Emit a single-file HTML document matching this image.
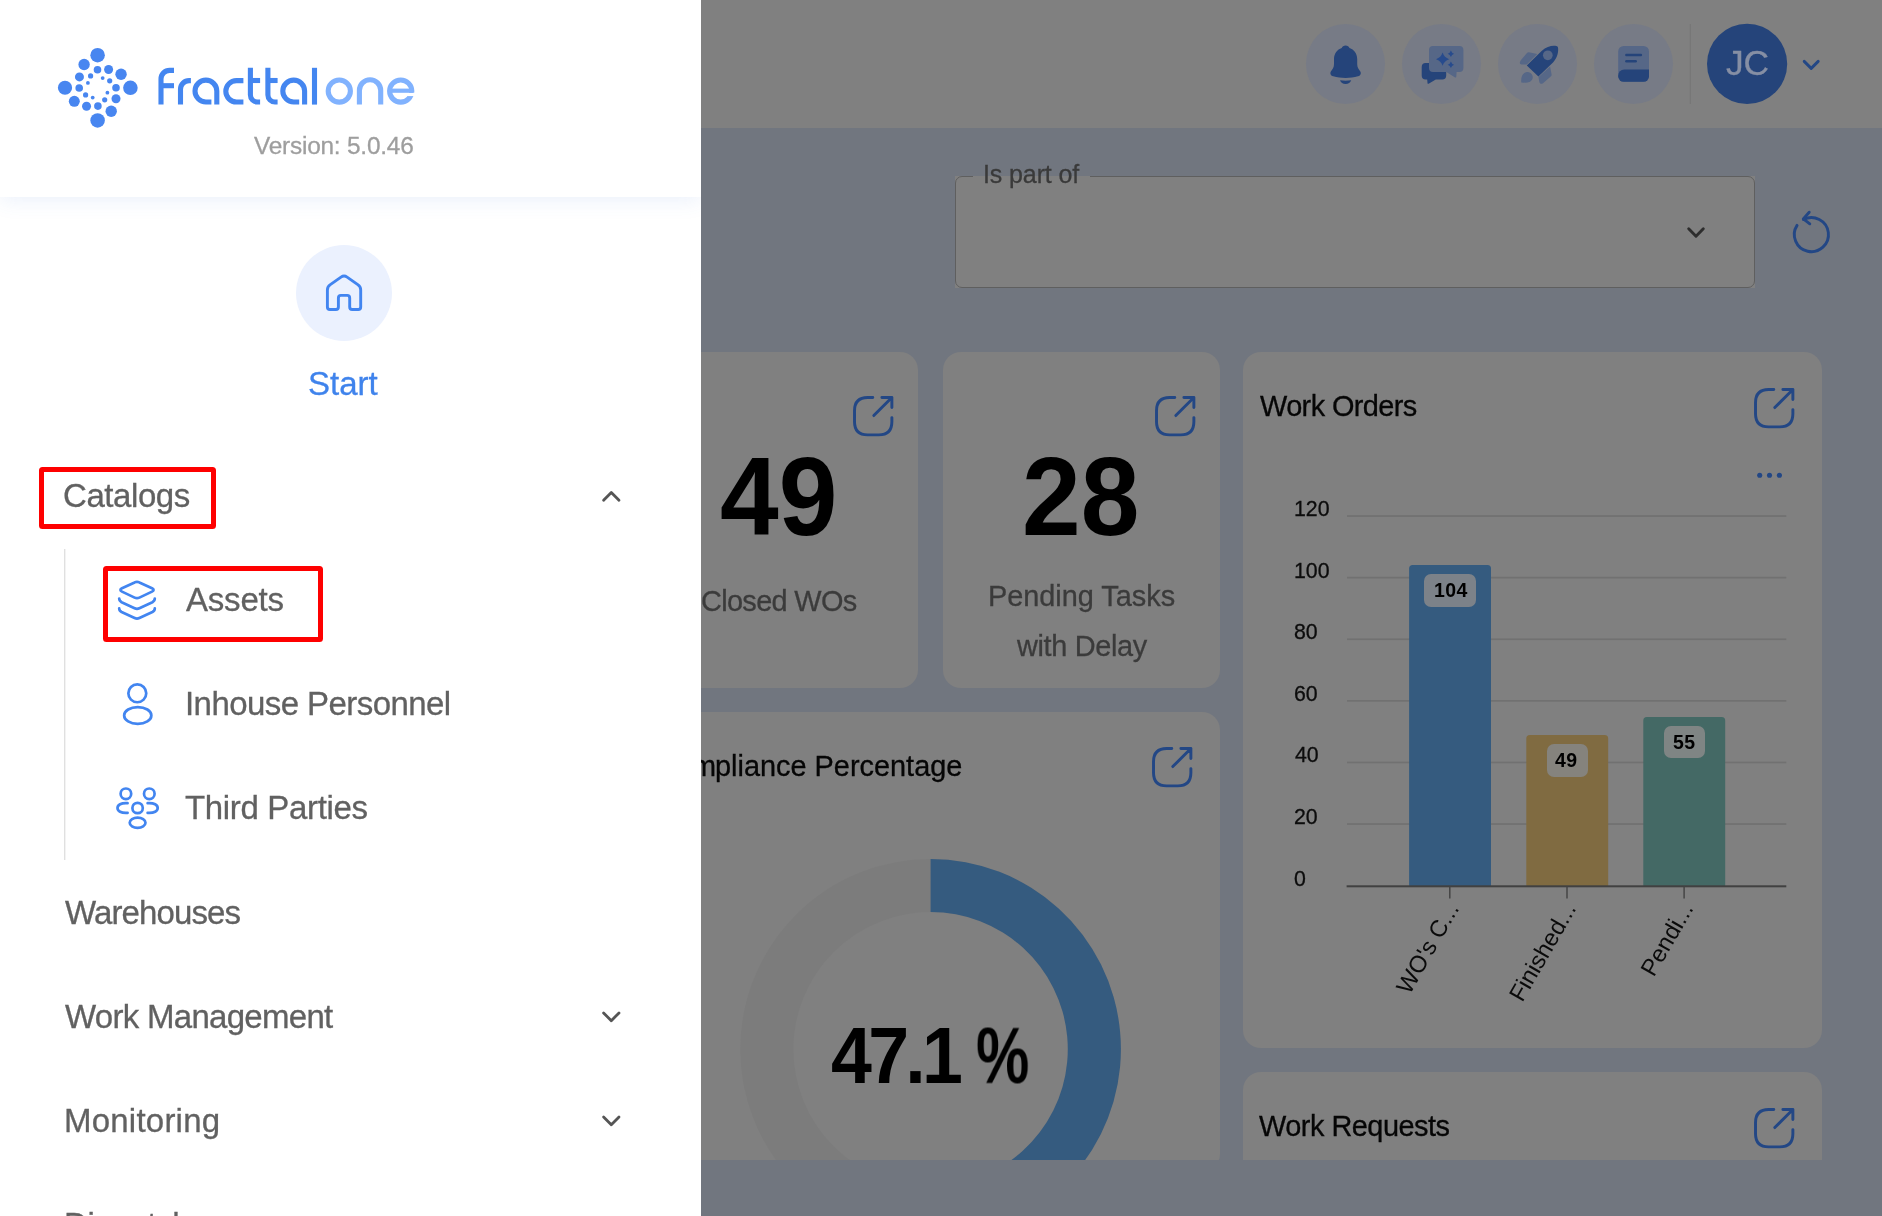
<!DOCTYPE html>
<html lang="en">
<head>
<meta charset="utf-8">
<title>Fracttal One</title>
<style>
*{box-sizing:border-box;margin:0;padding:0}
html,body{width:1882px;height:1216px;overflow:hidden;background:#71767f;font-family:"Liberation Sans",sans-serif}
.t{position:absolute;white-space:nowrap;line-height:1;will-change:transform}
#main{position:absolute;left:0;top:0;width:1882px;height:1216px;background:#71767f;overflow:hidden}
#topbar{position:absolute;left:0;top:0;width:1882px;height:127.5px;background:#808080}
.card{position:absolute;background:#808080;border-radius:18px}
.ic{position:absolute;width:79.6px;height:79.6px;border-radius:50%;background:#777b86;top:24px}
#side{position:absolute;left:0;top:0;width:701px;height:1216px;background:#fff;overflow:hidden}
#shead{position:absolute;left:0;top:0;width:701px;height:197px;background:#fff;box-shadow:0 3px 20px rgba(70,120,220,.115)}
.redbox{position:absolute;border:5px solid #fe0000;border-radius:3.5px}
svg{position:absolute;overflow:visible}
.pill{position:absolute;background:#969ca4;border-radius:7px}
</style>
</head>
<body>
<div id="main">
  <div id="topbar"></div>
  <div class="ic" style="left:1305.8px"></div>
  <div class="ic" style="left:1401.8px"></div>
  <div class="ic" style="left:1497.8px"></div>
  <div class="ic" style="left:1593.8px"></div>
  <svg style="left:0;top:0" width="1882" height="128" viewBox="0 0 1882 128">
    <g fill="#25447a">
      <path d="M1345.6,45.5 C1347.5,45.5 1349,46.5 1349.5,48 C1354,49.5 1357.2,53.5 1357.2,59 V64 C1357.2,67.5 1358.5,69 1360,71 C1361.5,73 1361,75.5 1358,76.3 C1354,77.5 1350,78 1345.6,78 C1341.2,78 1337.2,77.5 1333.2,76.3 C1330.2,75.5 1329.7,73 1331.2,71 C1332.7,69 1334,67.5 1334,64 V59 C1334,53.5 1337.2,49.5 1341.7,48 C1342.2,46.5 1343.7,45.5 1345.6,45.5 Z"/>
      <path d="M1340,80.2 C1343.5,80.8 1347.7,80.8 1351.2,80.2 C1350.5,82.5 1348.3,84 1345.6,84 C1342.9,84 1340.7,82.5 1340,80.2 Z"/>
    </g>
    <!-- chat -->
    <path fill="#25447a" d="M1425.7,62.9 H1442.2 A4,4 0 0 1 1446.2,66.9 V75.6 A4,4 0 0 1 1442.2,79.6 H1435.8 L1428.6,83.7 Q1427.6,84.2 1427.5,83 L1427.2,79.6 H1425.7 A4,4 0 0 1 1421.7,75.6 V66.9 A4,4 0 0 1 1425.7,62.9 Z"/>
    <path fill="#566787" d="M1433,46 H1459.4 A4,4 0 0 1 1463.4,50 V68 A4,4 0 0 1 1459.4,72 H1456.6 L1456.3,76.8 Q1456.2,78 1455.1,77.4 L1446.4,72 H1433 A4,4 0 0 1 1429,68 V50 A4,4 0 0 1 1433,46 Z"/>
    <g fill="#274b8d">
      <path d="M1442.6,52.6 Q1444.18,57.62 1449.1999999999998,59.2 Q1444.18,60.78 1442.6,65.8 Q1441.02,60.78 1436.0,59.2 Q1441.02,57.62 1442.6,52.6 Z"/>
      <path d="M1450.9,50.599999999999994 Q1451.67,53.03 1454.1000000000001,53.8 Q1451.67,54.57 1450.9,57.0 Q1450.13,54.57 1447.7,53.8 Q1450.13,53.03 1450.9,50.599999999999994 Z"/>
      <path d="M1450.9,61.5 Q1451.67,63.93 1454.1000000000001,64.7 Q1451.67,65.47 1450.9,67.9 Q1450.13,65.47 1447.7,64.7 Q1450.13,63.93 1450.9,61.5 Z"/>
    </g>
    <!-- rocket -->
    <g fill="#566787">
      <path d="M1528.8,52.2 L1537.2,53.9 L1526.8,64.6 H1521.6 Q1519.2,64.4 1520,62 Q1520.3,60.6 1521.4,59.5 L1527.2,52.8 Q1527.9,52 1528.8,52.2 Z"/>
      <path d="M1550.1,66.6 L1551.6,74.6 Q1551.8,75.6 1551,76.3 L1543,83.2 Q1541.2,84.6 1539.8,83 Q1539.3,82.2 1539.2,81.4 L1538.5,77 Z"/>
      <path d="M1521.3,82.6 Q1520.6,75.6 1524.4,73 C1527.4,71 1531.6,72.6 1532.6,76 C1533.4,79.4 1530.8,82.2 1527.4,82.4 Q1524.4,82.8 1521.3,82.6 Z"/>
    </g>
    <path fill="#25447a" d="M1526.8,65.4 L1541.6,51 C1546.8,46.2 1552.4,45.2 1556.4,46 Q1557.8,46.2 1558,47.6 C1558.6,51.6 1557.8,57.4 1553,62.4 L1538.4,76.6 Z"/>
    <circle cx="1547.8" cy="55.3" r="4.85" fill="#566787"/>
    <!-- book -->
    <path fill="#566787" d="M1623.7,45.95 H1643.5 A5.5,5.5 0 0 1 1649,51.45 V76.3 A5.5,5.5 0 0 1 1643.5,81.8 H1623.7 A5.5,5.5 0 0 1 1618.2,76.3 V51.45 A5.5,5.5 0 0 1 1623.7,45.95 Z"/>
    <path fill="#25447a" d="M1649,69.5 V76.3 A5.5,5.5 0 0 1 1643.5,81.8 H1623.7 A5.5,5.5 0 0 1 1618.2,76.3 V75.5 A6,6 0 0 1 1624.2,69.5 Z"/>
    <g stroke="#25447a" stroke-width="2.5" stroke-linecap="round"><path d="M1626.4,55.05 H1640.9"/><path d="M1626.4,61.35 H1635.7"/></g>
    <!-- divider, avatar -->
    <rect x="1689.7" y="24" width="1.3" height="80" fill="#777777"/>
    <circle cx="1747.1" cy="63.9" r="40.1" fill="#25447a"/>
    <path d="M1804.2,61.4 L1811.2,68.4 L1818.2,61.4" fill="none" stroke="#234785" stroke-width="2.9" stroke-linecap="round" stroke-linejoin="round"/>
  </svg>
  <div class="t" id="jc" style="left:1726.30px;top:45.50px;font-size:35.4px;color:#868fa4;font-weight:400;letter-spacing:-0.200px;-webkit-text-stroke:0.3px #868fa4">JC</div>
  <div style="position:absolute;left:955px;top:176px;width:800px;height:111.5px;background:#808080"></div>
  <div style="position:absolute;left:955.4px;top:176px;width:799.2px;height:111.5px;border:1.5px solid #5f5f5f;border-radius:7px"></div>
  <div style="position:absolute;left:972.7px;top:176px;width:117.2px;height:2px;background:#808080"></div>
  <div class="t" id="ispart" style="left:982.90px;top:162.01px;font-size:25px;color:#3a3a3a;font-weight:400;letter-spacing:-0.111px;-webkit-text-stroke:0.3px #3a3a3a">Is part of</div>
  <svg style="left:0;top:0" width="1882" height="300" viewBox="0 0 1882 300">
    <path d="M1688.7,228.8 L1696,236.2 L1703.3,228.8" fill="none" stroke="#2d2d2d" stroke-width="2.9" stroke-linecap="round" stroke-linejoin="round"/>
    <g fill="none" stroke="#234785" stroke-width="2.9" stroke-linecap="round" stroke-linejoin="round">
      <path d="M1803.5,219.5 A17.05,17.05 0 1 1 1797.05,225.4"/>
      <path d="M1809.2,212.2 L1803.3,218.9 L1809.8,223.8"/>
    </g>
  </svg>
  <div class="card" style="left:641px;top:352px;width:277px;height:335.5px"></div>
  <div class="card" style="left:943.3px;top:352px;width:276.6px;height:335.5px"></div>
  <div class="card" style="left:500px;top:712px;width:720.2px;height:460px"></div>
  <div class="card" style="left:1243px;top:352px;width:579px;height:695.6px"></div>
  <div class="card" style="left:1243px;top:1072px;width:579px;height:120px"></div>
  <svg style="left:853px;top:396.2px" width="40.4" height="40.4" viewBox="0 0 40 40"><path d="M19.6,1.5 H14.5 C6,1.5 1.5,6 1.5,14.5 V25.5 C1.5,34 6,38.5 14.5,38.5 H25.5 C34,38.5 38.5,34 38.5,25.5 V21.4 M20.6,19.4 L38.5,1.5 M28.6,1.5 H38.5 V11.4" fill="none" stroke="#234785" stroke-width="2.9" stroke-linecap="round" stroke-linejoin="round"/></svg>
  <svg style="left:1155px;top:396.2px" width="40.4" height="40.4" viewBox="0 0 40 40"><path d="M19.6,1.5 H14.5 C6,1.5 1.5,6 1.5,14.5 V25.5 C1.5,34 6,38.5 14.5,38.5 H25.5 C34,38.5 38.5,34 38.5,25.5 V21.4 M20.6,19.4 L38.5,1.5 M28.6,1.5 H38.5 V11.4" fill="none" stroke="#234785" stroke-width="2.9" stroke-linecap="round" stroke-linejoin="round"/></svg>
  <svg style="left:1152px;top:747.4px" width="40.4" height="40.4" viewBox="0 0 40 40"><path d="M19.6,1.5 H14.5 C6,1.5 1.5,6 1.5,14.5 V25.5 C1.5,34 6,38.5 14.5,38.5 H25.5 C34,38.5 38.5,34 38.5,25.5 V21.4 M20.6,19.4 L38.5,1.5 M28.6,1.5 H38.5 V11.4" fill="none" stroke="#234785" stroke-width="2.9" stroke-linecap="round" stroke-linejoin="round"/></svg>
  <svg style="left:1754.2px;top:387.6px" width="40.4" height="40.4" viewBox="0 0 40 40"><path d="M19.6,1.5 H14.5 C6,1.5 1.5,6 1.5,14.5 V25.5 C1.5,34 6,38.5 14.5,38.5 H25.5 C34,38.5 38.5,34 38.5,25.5 V21.4 M20.6,19.4 L38.5,1.5 M28.6,1.5 H38.5 V11.4" fill="none" stroke="#234785" stroke-width="2.9" stroke-linecap="round" stroke-linejoin="round"/></svg>
  <svg style="left:1754.2px;top:1107.6px" width="40.4" height="40.4" viewBox="0 0 40 40"><path d="M19.6,1.5 H14.5 C6,1.5 1.5,6 1.5,14.5 V25.5 C1.5,34 6,38.5 14.5,38.5 H25.5 C34,38.5 38.5,34 38.5,25.5 V21.4 M20.6,19.4 L38.5,1.5 M28.6,1.5 H38.5 V11.4" fill="none" stroke="#234785" stroke-width="2.9" stroke-linecap="round" stroke-linejoin="round"/></svg>
  <div class="t" id="n49" style="left:719.50px;top:445.71px;font-size:105.5px;color:#000;font-weight:700;letter-spacing:-0.000px;transform:scale(1.0000,1.058);transform-origin:0 89.31px">49</div>
  <div class="t" id="n28" style="left:1022.30px;top:445.71px;font-size:105.5px;color:#000;font-weight:700;letter-spacing:0.000px;transform:scale(1.0000,1.058);transform-origin:0 89.31px">28</div>
  <div class="t" id="closed" style="left:700.60px;top:586.70px;font-size:28.9px;color:#3b3b3b;font-weight:400;letter-spacing:-0.667px;-webkit-text-stroke:0.3px #3b3b3b">Closed WOs</div>
  <div class="t" id="pend1" style="left:987.80px;top:582.41px;font-size:28.9px;color:#3b3b3b;font-weight:400;letter-spacing:-0.025px;-webkit-text-stroke:0.3px #3b3b3b">Pending Tasks</div>
  <div class="t" id="pend2" style="left:1016.50px;top:631.81px;font-size:28.9px;color:#3b3b3b;font-weight:400;letter-spacing:-0.333px;-webkit-text-stroke:0.3px #3b3b3b">with Delay</div>
  <div class="t" id="comp" style="left:715.20px;top:752.41px;font-size:28.9px;color:#060606;font-weight:400;letter-spacing:-0.000px;-webkit-text-stroke:0.3px #060606">pliance Percentage</div>
  <div class="t" id="comp0" style="left:654.60px;top:752.41px;font-size:28.9px;color:#060606;font-weight:400;letter-spacing:-0.000px;-webkit-text-stroke:0.3px #060606">Com</div>
  <div class="t" id="wo" style="left:1259.80px;top:392.20px;font-size:28.9px;color:#060606;font-weight:400;letter-spacing:-0.600px;-webkit-text-stroke:0.3px #060606">Work Orders</div>
  <div class="t" id="wr" style="left:1259.40px;top:1112.00px;font-size:28.9px;color:#060606;font-weight:400;letter-spacing:-0.500px;-webkit-text-stroke:0.3px #060606">Work Requests</div>
  <svg style="left:0;top:0" width="1882" height="1216" viewBox="0 0 1882 1216">
    <circle cx="930.6" cy="1049.2" r="163.75" fill="none" stroke="#7c7c7c" stroke-width="53.10000000000002"/>
    <path d="M930.60,858.90 A190.3,190.3 0 0 1 965.08,1236.35 L955.46,1184.13 A137.2,137.2 0 0 0 930.60,912.00 Z" fill="#355b7f"/>
  </svg>
  <div class="t" id="pct" style="left:831.40px;top:1021.13px;font-size:73.5px;color:#000;font-weight:700;letter-spacing:-3.733px;transform:scale(1.0000,1.082);transform-origin:0 62.22px">47.1</div>
  <div class="t" id="pct2" style="left:975.50px;top:1021.13px;font-size:73.5px;color:#000;font-weight:700;letter-spacing:0.000px;transform:scale(0.8161,1.082);transform-origin:0 62.22px">%</div>
  <svg style="left:0;top:0" width="1882" height="1216" viewBox="0 0 1882 1216">
    <rect x="1347" y="515.2" width="439.3" height="1.7" fill="#717171"/>
    <rect x="1347" y="576.8" width="439.3" height="1.7" fill="#717171"/>
    <rect x="1347" y="638.4" width="439.3" height="1.7" fill="#717171"/>
    <rect x="1347" y="700.0" width="439.3" height="1.7" fill="#717171"/>
    <rect x="1347" y="761.6" width="439.3" height="1.7" fill="#717171"/>
    <rect x="1347" y="823.2" width="439.3" height="1.7" fill="#717171"/>
    <path d="M1409.1,886.5 V568.5 Q1409.1,565.0 1412.6,565.0 H1487.5 Q1491.0,565.0 1491.0,568.5 V886.5 Z" fill="#355b7f"/>
    <path d="M1526.3,886.5 V738.5 Q1526.3,735.0 1529.8,735.0 H1604.7 Q1608.2,735.0 1608.2,738.5 V886.5 Z" fill="#806b41"/>
    <path d="M1643.3,886.5 V720.4 Q1643.3,716.9 1646.8,716.9 H1721.7 Q1725.2,716.9 1725.2,720.4 V886.5 Z" fill="#446965"/>
    <rect x="1346.6" y="885.3" width="439.7" height="2" fill="#414141"/>
    <rect x="1449.05" y="886.5" width="1.5" height="12" fill="#454545"/>
    <rect x="1566.25" y="886.5" width="1.5" height="12" fill="#454545"/>
    <rect x="1683.35" y="886.5" width="1.5" height="12" fill="#454545"/>
    <text x="1459.7" y="908.3" text-anchor="end" transform="rotate(-60 1459.7 908.3)" font-family="Liberation Sans, sans-serif" font-size="23.7" fill="#0a0a0a">WO's C...</text>
    <text x="1576.9" y="908.3" text-anchor="end" transform="rotate(-60 1576.9 908.3)" font-family="Liberation Sans, sans-serif" font-size="23.7" fill="#0a0a0a">Finished...</text>
    <text x="1694.0" y="908.3" text-anchor="end" transform="rotate(-60 1694.0 908.3)" font-family="Liberation Sans, sans-serif" font-size="23.7" fill="#0a0a0a">Pendi...</text>
    <circle cx="1759.7" cy="475.2" r="2.55" fill="#234785"/>
    <circle cx="1769.5" cy="475.2" r="2.55" fill="#234785"/>
    <circle cx="1779.4" cy="475.2" r="2.55" fill="#234785"/>
  </svg>
  <div class="pill" style="left:1424.3px;top:574px;width:51.6px;height:32.6px;background:#7c8289"></div>
  <div class="pill" style="left:1546.8px;top:744.2px;width:41.3px;height:32.4px;background:#85837d"></div>
  <div class="pill" style="left:1663.5px;top:725.6px;width:41.3px;height:32.4px;background:#7f8584"></div>
  <div class="t" id="d104" style="left:1433.50px;top:581.04px;font-size:19.5px;color:#000;font-weight:700;letter-spacing:0.400px;transform:scale(1.0000,1.046);transform-origin:0 16.51px">104</div>
  <div class="t" id="d49" style="left:1555.20px;top:751.23px;font-size:19.5px;color:#000;font-weight:700;letter-spacing:0.400px;transform:scale(1.0000,1.046);transform-origin:0 16.51px">49</div>
  <div class="t" id="d55" style="left:1672.80px;top:732.82px;font-size:19.5px;color:#000;font-weight:700;letter-spacing:0.400px;transform:scale(1.0000,1.046);transform-origin:0 16.51px">55</div>
  <div class="t" id="ax0" style="left:1293.80px;top:498.90px;font-size:21.3px;color:#0c0c0c;font-weight:400;letter-spacing:0.000px;-webkit-text-stroke:0.3px #0c0c0c">120</div>
  <div class="t" id="ax1" style="left:1293.80px;top:560.50px;font-size:21.3px;color:#0c0c0c;font-weight:400;letter-spacing:0.000px;-webkit-text-stroke:0.3px #0c0c0c">100</div>
  <div class="t" id="ax2" style="left:1293.80px;top:622.10px;font-size:21.3px;color:#0c0c0c;font-weight:400;letter-spacing:0.000px;-webkit-text-stroke:0.3px #0c0c0c">80</div>
  <div class="t" id="ax3" style="left:1293.80px;top:683.71px;font-size:21.3px;color:#0c0c0c;font-weight:400;letter-spacing:0.000px;-webkit-text-stroke:0.3px #0c0c0c">60</div>
  <div class="t" id="ax4" style="left:1294.80px;top:745.31px;font-size:21.3px;color:#0c0c0c;font-weight:400;letter-spacing:0.000px;-webkit-text-stroke:0.3px #0c0c0c">40</div>
  <div class="t" id="ax5" style="left:1293.80px;top:806.90px;font-size:21.3px;color:#0c0c0c;font-weight:400;letter-spacing:0.000px;-webkit-text-stroke:0.3px #0c0c0c">20</div>
  <div class="t" id="ax6" style="left:1293.80px;top:868.50px;font-size:21.3px;color:#0c0c0c;font-weight:400;letter-spacing:0.000px;-webkit-text-stroke:0.3px #0c0c0c">0</div>
  <div style="position:absolute;left:0;top:1159.5px;width:1882px;height:60px;background:#71767f"></div>
</div>
<div id="side">
  <div style="position:absolute;left:295.9px;top:244.8px;width:96.4px;height:96.4px;border-radius:50%;background:#ebf1fe"></div>
  <svg style="left:0;top:0" width="701" height="1216" viewBox="0 0 701 1216">
    <path d="M327.4,307 V290 Q327.4,286.6 330.3,284.6 L341,277.1 Q344.05,275 347.1,277.1 L357.8,284.6 Q360.7,286.6 360.7,290 V307 Q360.7,309.5 358.2,309.5 H352.2 Q349.7,309.5 349.7,307 V297.9 Q349.7,295.4 347.2,295.4 H340.9 Q338.4,295.4 338.4,297.9 V307 Q338.4,309.5 335.9,309.5 H329.9 Q327.4,309.5 327.4,307 Z" fill="none" stroke="#4285f0" stroke-width="2.9" stroke-linejoin="round"/>
    <rect x="64" y="549" width="1.4" height="311" fill="#e0e0e0"/>
    <g fill="none" stroke="#555555" stroke-width="2.8" stroke-linecap="round" stroke-linejoin="round">
      <path d="M603.6,500.2 L611.3,492.4 L619,500.2"/>
      <path d="M603.6,1012.9 L611.3,1020.7 L619,1012.9"/>
      <path d="M603.6,1116.9 L611.3,1124.7 L619,1116.9"/>
    </g>
    <g fill="none" stroke="#4285f0" stroke-width="2.7" stroke-linecap="round" stroke-linejoin="round">
      <!-- layers -->
      <path d="M134.6,582.4 Q137,581.2 139.4,582.4 L152,588.2 Q155.2,589.9 152,591.6 L139.4,597.6 Q137,598.8 134.6,597.6 L122,591.6 Q118.8,589.9 122,588.2 Z"/>
      <path d="M119.2,598.6 Q119.2,600.9 121.6,602.2 L134.6,608.2 Q137,609.4 139.4,608.2 L152.4,602.2 Q154.8,600.9 154.8,598.6"/>
      <path d="M119.2,608.4 Q119.2,610.7 121.6,612 L134.6,618 Q137,619.2 139.4,618 L152.4,612 Q154.8,610.7 154.8,608.4"/>
      <!-- person -->
      <circle cx="137.3" cy="693.3" r="8.95"/>
      <ellipse cx="137.75" cy="715.45" rx="13.6" ry="8.4"/>
      <!-- group -->
      <circle cx="125.9" cy="793.8" r="5.3"/>
      <circle cx="149.3" cy="793.8" r="5.3"/>
      <circle cx="137.6" cy="808" r="5.2"/>
      <ellipse cx="137.6" cy="822.8" rx="7.9" ry="5.1"/>
      <path d="M127.6,803.1 C121,802.6 117.5,805 117.5,808 C117.5,811 121,813.4 127.6,812.9"/>
      <path d="M147.6,803.1 C154.2,802.6 157.7,805 157.7,808 C157.7,811 154.2,813.4 147.6,812.9"/>
    </g>
  </svg>
  <div class="redbox" style="left:39px;top:466.5px;width:177px;height:62.2px"></div>
  <div class="redbox" style="left:103.2px;top:565.8px;width:220px;height:76.2px"></div>
  <div class="t" id="start" style="left:308.20px;top:366.81px;font-size:33px;color:#3f83ec;font-weight:400;letter-spacing:0.000px;-webkit-text-stroke:0.3px #3f83ec">Start</div>
  <div class="t" id="m1" style="left:63.30px;top:478.81px;font-size:33px;color:#616161;font-weight:400;letter-spacing:-0.429px;-webkit-text-stroke:0.3px #616161">Catalogs</div>
  <div class="t" id="m2" style="left:186.20px;top:583.00px;font-size:33px;color:#616161;font-weight:400;letter-spacing:-0.200px;-webkit-text-stroke:0.3px #616161">Assets</div>
  <div class="t" id="m3" style="left:184.50px;top:687.10px;font-size:33px;color:#616161;font-weight:400;letter-spacing:-0.563px;-webkit-text-stroke:0.3px #616161">Inhouse Personnel</div>
  <div class="t" id="m4" style="left:185.40px;top:791.41px;font-size:33px;color:#616161;font-weight:400;letter-spacing:-0.333px;-webkit-text-stroke:0.3px #616161">Third Parties</div>
  <div class="t" id="m5" style="left:64.90px;top:895.50px;font-size:33px;color:#616161;font-weight:400;letter-spacing:-0.889px;-webkit-text-stroke:0.3px #616161">Warehouses</div>
  <div class="t" id="m6" style="left:64.90px;top:999.70px;font-size:33px;color:#616161;font-weight:400;letter-spacing:-0.714px;-webkit-text-stroke:0.3px #616161">Work Management</div>
  <div class="t" id="m7" style="left:63.60px;top:1103.91px;font-size:33px;color:#616161;font-weight:400;letter-spacing:0.222px;-webkit-text-stroke:0.3px #616161">Monitoring</div>
  <div class="t" id="m8" style="left:63.60px;top:1208.10px;font-size:33px;color:#616161;font-weight:400;letter-spacing:-0.243px;-webkit-text-stroke:0.3px #616161">Dispatch</div>
  <div id="shead">
    <svg style="left:0;top:0" width="701" height="196" viewBox="0 0 701 196">
      <g fill="#4886f0"><circle cx="97.6" cy="55.2" r="7.26"/><circle cx="65.0" cy="87.76" r="7.1"/><circle cx="130.4" cy="87.76" r="7.26"/><circle cx="97.6" cy="120.4" r="7.26"/><circle cx="84.1" cy="64.5" r="5.7"/><circle cx="121.05" cy="74.3" r="5.7"/><circle cx="74.3" cy="101.3" r="5.5"/><circle cx="111.2" cy="111.3" r="5.7"/><circle cx="79.45" cy="76.9" r="4.5"/><circle cx="108.6" cy="69.45" r="4.5"/><circle cx="116.0" cy="98.8" r="4.5"/><circle cx="86.55" cy="106.2" r="4.5"/><circle cx="97.5" cy="69.76" r="3.8"/><circle cx="79.2" cy="88.0" r="3.8"/><circle cx="116.0" cy="87.7" r="3.8"/><circle cx="97.9" cy="106.1" r="3.8"/><circle cx="90.6" cy="75.9" r="2.6"/><circle cx="109.7" cy="80.8" r="2.6"/><circle cx="104.7" cy="99.8" r="2.6"/><circle cx="85.6" cy="94.9" r="2.6"/><circle cx="102.66" cy="78.1" r="1.9"/><circle cx="87.9" cy="82.95" r="1.9"/><circle cx="107.4" cy="92.7" r="1.9"/><circle cx="92.7" cy="97.6" r="1.9"/></g>
      <g fill="none" stroke="#4486f0" stroke-width="5.1" stroke-linejoin="round">
        <path d="M161,104.6 V79 A8.6,8.6 0 0 1 169.6,70.4 H174"/>
        <path d="M161,85.7 H174"/>
        <path d="M180.5,104.6 V89.2 A8.6,8.6 0 0 1 189.1,80.6 H190.9"/>
        <path d="M216.8,104.6 V91.05 A10.9,10.9 0 1 0 205.9,101.95 H211.4"/>
        <path d="M243.4,80.65 H236.5 A10.7,10.7 0 0 0 236.5,102.05 H243.4"/>
        <path d="M250.4,67.8 V94.95 A7.1,7.1 0 0 0 257.5,102.05 H260.1"/>
        <path d="M250.4,80.5 H260.1"/>
        <path d="M267.9,67.8 V94.95 A7.1,7.1 0 0 0 275,102.05 H277.6"/>
        <path d="M267.9,80.5 H277.6"/>
        <path d="M304.6,104.6 V91.05 A10.9,10.9 0 1 0 293.7,101.95 H299.2"/>
        <path d="M314.5,67.8 V104.6"/>
      </g>
      <g fill="none" stroke="#81b2fe" stroke-width="5.1" stroke-linejoin="round">
        <circle cx="339.3" cy="91.05" r="11.1"/>
        <path d="M359.4,104.6 V90.45 A10.65,10.65 0 0 1 380.7,90.45 V104.6"/>
        <circle cx="400.7" cy="91.05" r="11.1"/>
      </g>
      <rect x="404.5" y="92.8" width="12" height="3.3" fill="#fff"/>
      <path d="M390,90.7 H413" fill="none" stroke="#81b2fe" stroke-width="4.2"/>
    </svg>
    <div class="t" id="ver" style="left:254.10px;top:134.00px;font-size:24.4px;color:#9e9e9e;font-weight:400;letter-spacing:-0.214px;-webkit-text-stroke:0.3px #9e9e9e">Version: 5.0.46</div>
  </div>
</div>
</body>
</html>
